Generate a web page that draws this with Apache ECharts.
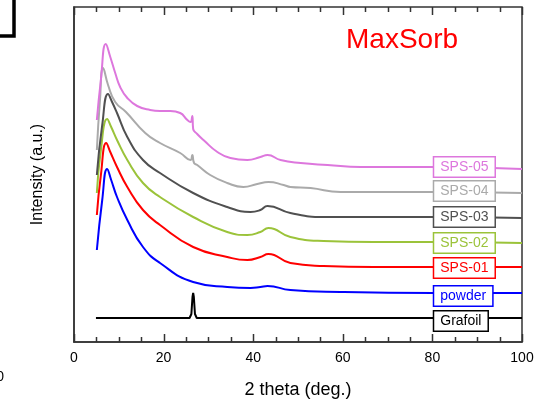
<!DOCTYPE html>
<html>
<head>
<meta charset="utf-8">
<script src="https://cdn.jsdelivr.net/npm/echarts@6/dist/echarts.min.js"></script>
<style>html,body{margin:0;padding:0;background:#fff;}#c{width:543px;height:401px;}</style>
</head>
<body>
<div id="c"></div>
<script>
// 2 theta (deg.) vs intensity (a.u., offset curves)
const xTicks = [0, 20, 40, 60, 80, 100];
const xMinorTicks = [5, 10, 15, 25, 30, 35, 45, 50, 55, 65, 70, 75, 85, 90, 95];
const seriesNames = ['Grafoil', 'powder', 'SPS-01', 'SPS-02', 'SPS-03', 'SPS-04', 'SPS-05'];

const sps05 = [[5.1,222],[6.0,262],[7.1,298],[8.1,285],[9.2,269],[10.3,255],[11.9,244],[14.1,236],[17.0,232],[19.2,231],[21.5,231],[23.7,229],[25.3,222],[26.0,220],[26.4,226],[26.6,213],[27.5,208],[28.9,202],[32.0,190],[34.9,184],[38.7,182],[41.6,185],[43.2,187],[46.1,182],[50.6,179],[56.6,177],[64.0,175],[80.3,175],[100,173]];
const sps04 = [[5.1,192],[5.8,242],[6.5,274],[7.6,257],[9.2,240],[11.6,230],[15.9,209],[19.2,199],[23.7,189],[26.0,182],[26.4,187],[26.8,179],[27.5,177],[30.4,167],[34.2,159],[37.8,155],[40.9,158],[43.4,160],[46.8,157],[48.3,155],[52.8,154],[59.5,150],[80.3,150],[100,149]];
const sps03 = [[5.1,167],[6.3,217],[7.6,248],[8.5,240],[9.6,229],[11.9,205],[15.4,182],[19.2,169],[26.6,149],[34.2,135],[39.4,130],[41.6,132],[43.2,136],[48.3,129],[55.7,125],[66.9,125],[80.3,125],[100,124]];
const sps02 = [[5.1,149],[6.0,192],[7.4,223],[8.3,215],[9.6,202],[11.9,182],[15.4,159],[19.2,145],[26.6,125],[34.2,110],[38.7,107],[41.6,110],[43.4,114],[48.3,105],[55.7,101],[66.9,100],[80.3,100],[100,99]];
const sps01 = [[5.1,127],[6.0,167],[7.2,199],[8.1,190],[9.6,175],[11.9,155],[15.4,132],[19.2,117],[26.6,95],[34.2,85],[38.7,82],[41.6,85],[43.4,88],[48.3,79],[55.7,76],[66.9,75],[80.3,75],[100,75]];
const powder = [[5.1,92],[6.3,142],[7.4,173],[8.3,162],[9.6,145],[11.9,122],[15.4,95],[19.2,79],[26.6,60],[34.2,55],[39.4,54],[41.6,55],[43.2,56],[48.3,52],[59.5,50],[80.3,49],[100,49]];
const grafoil = [[4.9,24],[25.8,24],[26.2,28],[26.45,45],[26.6,49],[26.75,45],[27.0,28],[27.4,24],[54.4,24],[54.7,26],[55.0,24],[100,24]];

// label anchor values (x where box starts, y level of box centre)
const labelX = 80.3;
const labelY = [21, 46, 74, 99, 125, 151, 175];

const colors = ['#000000', '#0000ff', '#ff0000', '#9bc33a', '#505050', '#aaaaaa', '#dd77dd'];
const datasets = [grafoil, powder, sps01, sps02, sps03, sps04, sps05];

const chart = echarts.init(document.getElementById('c'), null, {renderer: 'canvas'});
const font = 'Arial, "Liberation Sans", sans-serif';
const axisCol = '#333';
const yMin = 0, yMax = 335;

const series = datasets.map((d, i) => ({
  type: 'line',
  name: seriesNames[i],
  data: d,
  showSymbol: false,
  symbol: 'none',
  smooth: i === 0 ? false : 0.5,
  lineStyle: {color: colors[i], width: 2},
  z: 2,
  silent: true,
  markPoint: {
    symbol: 'rect',
    symbolSize: 1,
    itemStyle: {color: 'rgba(0,0,0,0)'},
    silent: true,
    z: 5,
    data: [{
      coord: [labelX, labelY[i]],
      label: {
        show: true,
        formatter: seriesNames[i],
        position: 'right',
        distance: 0,
        color: colors[i],
        fontFamily: font,
        fontSize: 14,
        backgroundColor: '#fff',
        borderColor: colors[i],
        borderWidth: 1.5,
        padding: [2, 6, 1, 6],
        lineHeight: 16
      }
    }]
  }
}));

chart.setOption({
  animation: false,
  backgroundColor: '#fff',
  grid: {left: 74, right: 21, top: 7, bottom: 59, containLabel: false, outerBoundsMode: 'none', show: true, borderColor: axisCol, borderWidth: 1.5, backgroundColor: 'transparent'},
  xAxis: {
    type: 'value', min: 0, max: 100, interval: 20, position: 'bottom',
    name: '2 theta (deg.)', nameLocation: 'middle', nameGap: 39,
    nameTextStyle: {fontFamily: font, fontSize: 18, color: '#000'},
    axisLine: {show: true, onZero: false, lineStyle: {color: axisCol, width: 1.5}},
    axisTick: {show: false},
    axisLabel: {fontFamily: font, fontSize: 14, color: '#000', margin: 9},
    splitLine: {show: false}
  },
  yAxis: {
    type: 'value', min: yMin, max: yMax,
    name: 'Intensity (a.u.)', nameLocation: 'middle', nameGap: 28, nameRotate: 90,
    nameTextStyle: {fontFamily: font, fontSize: 16, color: '#000'},
    axisLine: {show: true, lineStyle: {color: axisCol, width: 1.5}},
    axisTick: {show: false},
    axisLabel: {show: false},
    splitLine: {show: false}
  },
  series: series
});

// ticks on bottom and top frame, placed through the axis scale
const yBot = chart.convertToPixel({yAxisIndex: 0}, yMin);
const yTop = chart.convertToPixel({yAxisIndex: 0}, yMax);
const graphics = [
  {type: 'text', left: 346, top: 26, style: {text: 'MaxSorb', fill: '#ff0000', font: '28px Arial, "Liberation Sans", sans-serif'}},
  {type: 'rect', shape: {x: -10, y: -10, width: 24, height: 46}, style: {fill: 'none', stroke: '#000', lineWidth: 3.5}},
  {type: 'text', x: 4, y: 370, style: {text: '0', fill: '#000', font: '14px Arial, "Liberation Sans", sans-serif', textAlign: 'right'}}
];
function addTick(v, len) {
  const x = Math.round(chart.convertToPixel({xAxisIndex: 0}, v)) + 0.5;
  graphics.push({type: 'line', z: 10, shape: {x1: x, y1: yBot, x2: x, y2: yBot - len}, style: {stroke: axisCol, lineWidth: 1.5}});
  graphics.push({type: 'line', z: 10, shape: {x1: x, y1: yTop, x2: x, y2: yTop + len}, style: {stroke: axisCol, lineWidth: 1.5}});
}
xTicks.forEach(v => addTick(v, 8));
xMinorTicks.forEach(v => addTick(v, 5));
chart.setOption({graphic: graphics});
</script>
</body>
</html>
